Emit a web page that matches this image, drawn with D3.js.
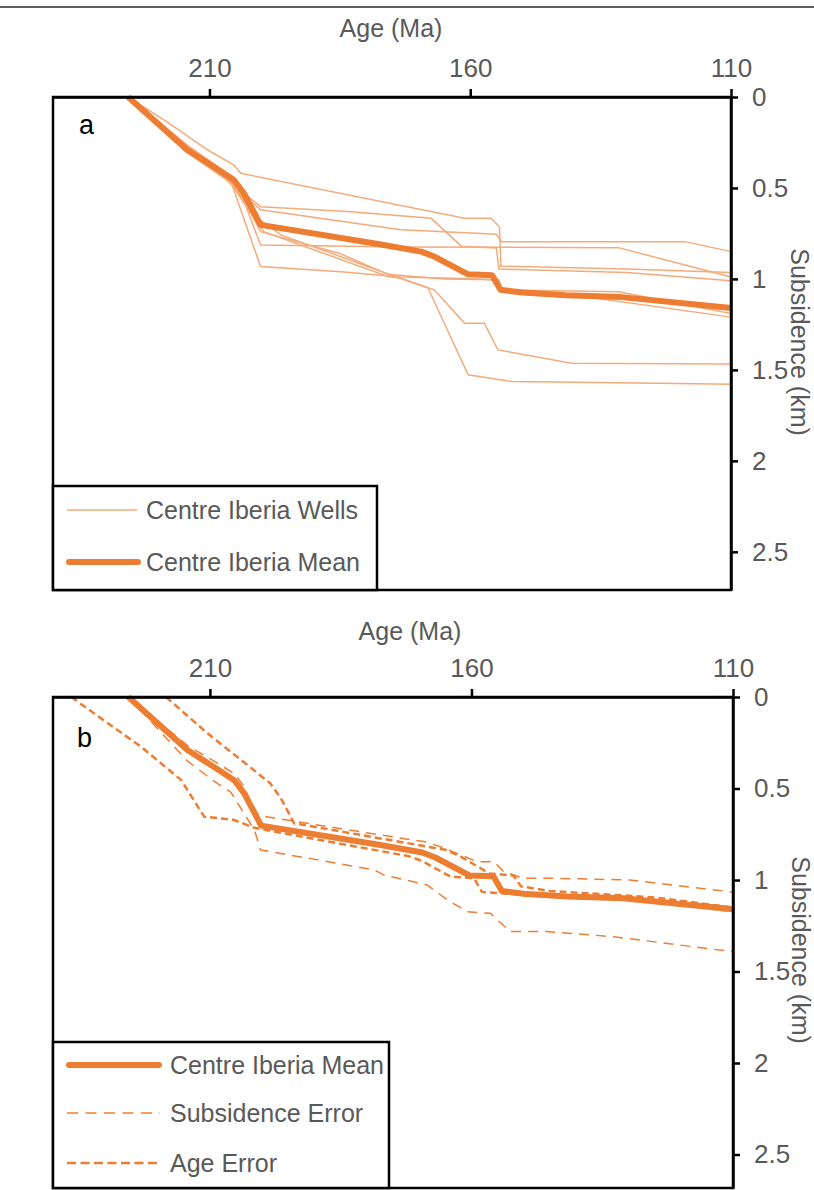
<!DOCTYPE html>
<html>
<head>
<meta charset="utf-8">
<script src="https://cdn.jsdelivr.net/npm/d3@7"></script>
<style>
  html,body{margin:0;padding:0;background:#fff;}
  svg{display:block;font-family:"Liberation Sans",Arial,sans-serif;}
</style>
</head>
<body>
<script>
// ---------------- DATA ----------------
const xTicks = [210, 160, 110];
const yTicks = [0, 0.5, 1, 1.5, 2, 2.5];

// Centre Iberia Mean : [age (Ma), subsidence (km)]
const meanSeries = [[225.6,0],[214.3,0.29],[209.2,0.383],[205.3,0.456],[203.4,0.529],[200.2,0.703],
  [177.4,0.809],[169.4,0.85],[166.9,0.877],[160.4,0.975],[155.8,0.98],[154.2,1.06],[150,1.075],
  [141.7,1.09],[131,1.1],[110,1.16]];

// Individual wells (panel a)
const well1 = [[225.6,0],[218,0.14],[210.4,0.29],[205.3,0.374],[204,0.419],[161.1,0.667],[156,0.667],[154.4,0.713],[154.1,0.93],[130,0.945],[110,0.965]];
const well2 = [[225.6,0],[214,0.27],[209,0.37],[205.5,0.44],[203.8,0.52],[200.2,0.603],[183.5,0.63],[167.5,0.667],[161.7,0.82],[155,0.83],[154.5,0.945],[130,0.965],[110,1.01]];
const well3 = [[225.6,0],[214,0.28],[209,0.38],[205.3,0.46],[203,0.55],[200.2,0.62],[173.3,0.73],[157.9,0.75],[155,0.755],[154,0.795],[118.8,0.795],[110,0.85]];
const well4 = [[225.6,0],[214.5,0.3],[209.5,0.4],[206,0.47],[203,0.6],[200.2,0.813],[173.3,0.825],[131.6,0.828],[110,0.99]];
const well5 = [[225.6,0],[214,0.29],[209,0.39],[205.5,0.47],[203.5,0.56],[200.2,0.74],[185,0.86],[175.8,0.975],[165,1.0],[154.5,1.005],[154,1.06],[131.6,1.07],[110,1.19]];
const well6 = [[225.6,0],[215,0.26],[210,0.36],[206,0.456],[200.2,0.932],[184.8,0.96],[173.3,0.99],[157.9,1.0],[154.5,1.01],[154,1.07],[140,1.09],[110,1.21]];
const well7 = [[225.6,0],[214,0.3],[209,0.4],[205,0.5],[202.5,0.62],[199.6,0.74],[175.8,0.987],[173.3,0.996],[166.9,1.06],[161.1,1.243],[157.3,1.243],[154.7,1.39],[140.6,1.463],[110,1.467]];
const well8 = [[225.6,0],[214,0.3],[209,0.4],[205,0.49],[202,0.64],[196.3,0.758],[176,0.97],[168.1,1.05],[160.4,1.527],[152.1,1.564],[123.9,1.573],[110,1.579]];
const wells = [well1, well2, well3, well4, well5, well6, well7, well8];

// Panel b error envelopes
const subsErrUpper = [[225.6,0],[214.3,0.265],[209.2,0.35],[205.3,0.42],[203.4,0.49],[201.5,0.63],[200.2,0.65],
  [177.4,0.754],[169.1,0.79],[165.9,0.818],[158.9,0.9],[155.7,0.9],[153.8,0.955],[150,0.991],[144.3,0.991],[129.7,1.0],[110,1.066]];
const subsErrLower = [[225.6,0],[214.3,0.35],[209.2,0.46],[206,0.52],[203.4,0.64],[201.5,0.727],[200.3,0.836],[189.4,0.89],
  [178.6,0.945],[176.7,0.973],[168.5,1.027],[164.6,1.109],[160.8,1.173],[156.4,1.182],[152.6,1.282],[145.6,1.282],[132.8,1.31],[110,1.392]];
const ageErrOlder = [[236.5,0],[229.5,0.144],[223.2,0.271],[215.5,0.454],[211.1,0.654],[205.4,0.672],[201.5,0.715],
  [172,0.87],[169.5,0.895],[164,0.982],[159.5,0.99],[158,1.065],[146,1.09],[130,1.105],[110,1.17]];
const ageErrYounger = [[218.4,0],[210.4,0.2],[206,0.3],[202,0.39],[200.9,0.417],[198.5,0.47],[196.5,0.55],[193.9,0.69],
  [165,0.835],[162.5,0.865],[156.5,0.965],[152,0.975],[150.5,1.035],[145,1.06],[125,1.095],[110,1.15]];

const legendA = ["Centre Iberia Wells", "Centre Iberia Mean"];
const legendB = ["Centre Iberia Mean", "Subsidence Error", "Age Error"];

// ---------------- STYLE ----------------
const ORANGE = "#ED7D31";
const LIGHT = "#F4AB7A";
const GREY = "#595959";
const MEAN_W = 6;

const svg = d3.select("body").append("svg").attr("width", 814).attr("height", 1190);

svg.append("line").attr("x1", 0).attr("x2", 814).attr("y1", 7).attr("y2", 7)
  .attr("stroke", "#2a2a2a").attr("stroke-width", 1.5);

function drawPanel(p) {
  const x = d3.scaleLinear().domain([240, 110]).range([p.left, p.right]);
  const y = d3.scaleLinear().domain([0, p.kmMax]).range([p.top, p.bottom]);
  const g = svg.append("g");
  const line = d3.line().x(d => x(d[0])).y(d => y(d[1]));

  p.draw(g, line);

  // frame
  g.append("rect").attr("x", p.left).attr("y", p.top)
    .attr("width", p.right - p.left).attr("height", p.bottom - p.top)
    .attr("fill", "none").attr("stroke", "#000").attr("stroke-width", 2.5);

  // x axis (top)
  const xa = d3.axisTop(x).tickValues(xTicks).tickSize(8).tickSizeOuter(0).tickPadding(12)
    .tickFormat(d3.format("d"));
  const gx = g.append("g").attr("transform", `translate(0,${p.top})`).call(xa);
  gx.select(".domain").attr("stroke", "#000").attr("stroke-width", 2.5);
  gx.selectAll(".tick line").attr("stroke", "#000").attr("stroke-width", 2.5);
  gx.selectAll(".tick text").attr("fill", GREY).attr("font-size", 26)
    .attr("font-family", "Liberation Sans, Arial, sans-serif");

  // y axis (right)
  const ya = d3.axisRight(y).tickValues(yTicks).tickSize(7).tickSizeOuter(0).tickPadding(14)
    .tickFormat(d => String(d));
  const gy = g.append("g").attr("transform", `translate(${p.right},0)`).call(ya);
  gy.select(".domain").attr("stroke", "#000").attr("stroke-width", 2.5);
  gy.selectAll(".tick line").attr("stroke", "#000").attr("stroke-width", 2.5);
  gy.selectAll(".tick text").attr("fill", GREY).attr("font-size", 26)
    .attr("font-family", "Liberation Sans, Arial, sans-serif");

  // axis titles
  g.append("text").attr("x", p.ageX).attr("y", p.ageY).attr("text-anchor", "middle")
    .attr("fill", GREY).attr("font-size", 25).text("Age (Ma)");
  g.append("text").attr("transform", `translate(${p.subX},${p.subY}) rotate(90)`)
    .attr("text-anchor", "middle").attr("fill", GREY).attr("font-size", 25).text("Subsidence (km)");

  // panel letter
  g.append("text").attr("x", p.letterX).attr("y", p.letterY).attr("fill", "#000")
    .attr("font-size", 27).text(p.letter);

  // legend
  const lg = g.append("g");
  lg.append("rect").attr("x", p.left).attr("y", p.legTop)
    .attr("width", p.legRight - p.left).attr("height", p.bottom - p.legTop)
    .attr("fill", "#fff").attr("stroke", "#000").attr("stroke-width", 2.5);
  p.legend(lg);
}

// Panel a
drawPanel({
  left: 53, right: 731, top: 97, bottom: 590, kmMax: 2.71,
  ageX: 391, ageY: 37, subX: 791, subY: 342, letter: "a", letterX: 79, letterY: 134,
  legTop: 486, legRight: 377,
  draw: (g, line) => {
    g.selectAll(".well").data(wells).join("path").attr("class", "well")
      .attr("d", line).attr("fill", "none").attr("stroke", LIGHT).attr("stroke-width", 1.5);
    g.append("path").datum(meanSeries).attr("d", line).attr("fill", "none")
      .attr("stroke", ORANGE).attr("stroke-width", MEAN_W).attr("stroke-linejoin", "round");
  },
  legend: (lg) => {
    const ys = [510, 562];
    lg.append("line").attr("x1", 67).attr("x2", 137).attr("y1", ys[0]).attr("y2", ys[0])
      .attr("stroke", LIGHT).attr("stroke-width", 1.5);
    lg.append("line").attr("x1", 69).attr("x2", 138).attr("y1", ys[1]).attr("y2", ys[1])
      .attr("stroke", ORANGE).attr("stroke-width", MEAN_W).attr("stroke-linecap", "round");
    legendA.forEach((t, i) => lg.append("text").attr("x", 146).attr("y", ys[i] + 9)
      .attr("fill", GREY).attr("font-size", 25).text(t));
  }
});

// Panel b
drawPanel({
  left: 53, right: 733, top: 697, bottom: 1188, kmMax: 2.683,
  ageX: 410, ageY: 640, subX: 792, subY: 950, letter: "b", letterX: 77, letterY: 747,
  legTop: 1042, legRight: 389,
  draw: (g, line) => {
    [subsErrUpper, subsErrLower].forEach(s => g.append("path").datum(s).attr("d", line)
      .attr("fill", "none").attr("stroke", ORANGE).attr("stroke-width", 1.5).attr("stroke-dasharray", "10,7"));
    g.append("path").datum(meanSeries).attr("d", line).attr("fill", "none")
      .attr("stroke", ORANGE).attr("stroke-width", MEAN_W).attr("stroke-linejoin", "round");
    [ageErrOlder, ageErrYounger].forEach(s => g.append("path").datum(s).attr("d", line)
      .attr("fill", "none").attr("stroke", ORANGE).attr("stroke-width", 2.5).attr("stroke-dasharray", "7,4"));
  },
  legend: (lg) => {
    const ys = [1065, 1113, 1163];
    lg.append("line").attr("x1", 69).attr("x2", 159).attr("y1", ys[0]).attr("y2", ys[0])
      .attr("stroke", ORANGE).attr("stroke-width", MEAN_W).attr("stroke-linecap", "round");
    lg.append("line").attr("x1", 67).attr("x2", 160).attr("y1", ys[1]).attr("y2", ys[1])
      .attr("stroke", ORANGE).attr("stroke-width", 1.5).attr("stroke-dasharray", "11,7.5");
    lg.append("line").attr("x1", 67).attr("x2", 160).attr("y1", ys[2]).attr("y2", ys[2])
      .attr("stroke", ORANGE).attr("stroke-width", 2.5).attr("stroke-dasharray", "9,4.5");
    legendB.forEach((t, i) => lg.append("text").attr("x", 170).attr("y", ys[i] + 9)
      .attr("fill", GREY).attr("font-size", 25).text(t));
  }
});
</script>
</body>
</html>
